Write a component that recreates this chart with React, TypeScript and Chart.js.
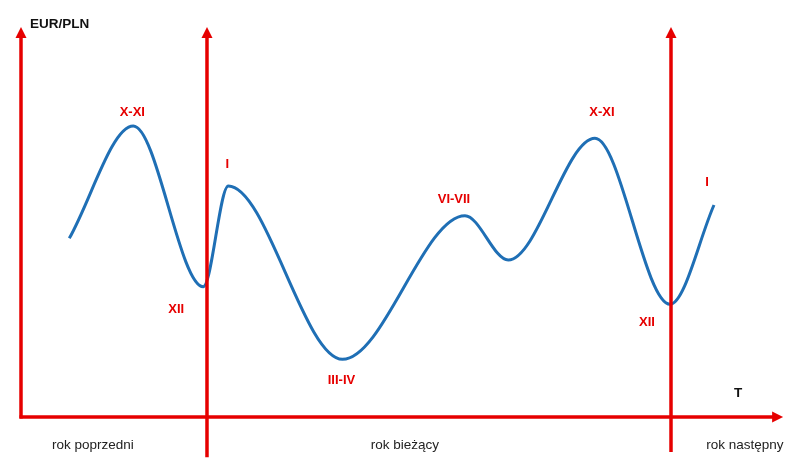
import React, { useEffect, useRef } from "react";
import { Chart, registerables } from "chart.js";
Chart.register(...registerables);

// Time in months (0 = start of current year, 12 = start of next year)
const months = [-3.561, -1.906, -0.096, 0.551, 3.504, 6.672, 7.792, 10.034, 11.974, 13.112];
// Schematic EUR/PLN level (arbitrary units)
const rate = [4.581, 7.46, 3.34, 5.921, 1.478, 5.16, 4.024, 7.144, 2.889, 5.434];
// Turning points: index into the series and their label
const turnIndex = [1, 2, 3, 4, 5, 7, 8, 9];
const turnLabels = ["X-XI", "XII", "I", "III-IV", "VI-VII", "X-XI", "XII", "I"];
// Year boundaries (months) and year names
const yearBounds = [0, 12];
const yearNames = ["rok poprzedni", "rok bieżący", "rok następny"];
const yearNameAt = [-2.95, 5.12, 13.91];

const X_MIN = -5.353;
const X_MAX = 14.974;
const Y_MIN = -1.103;
const Y_MAX = 10.69;
const AXIS_LEFT = -4.81;
const AXIS_RIGHT_END = 14.9;
const AXIS_TOP = 10;
const boundaryBottoms = [-1.03, -0.9];

// pixel offsets of turning-point labels (style only)
const labelOffsets: [number, number][] = [
  [-1, -14], [-27, 23], [-1, -22], [-1, 21], [-11, -16], [7, -26], [-23, 18], [-7, -23],
];

const RED = "#e60000";
const BLUE = "#1f6fb5";

export default function App() {
  const ref = useRef<HTMLCanvasElement | null>(null);
  useEffect(() => {
    document.body.style.margin = "0";
    const canvas = ref.current!;
    const arrowPlugin = {
      id: "schema",
      afterDatasetsDraw(chart: any) {
        const ctx = chart.ctx as CanvasRenderingContext2D;
        const xs = chart.scales.x;
        const ys = chart.scales.y;
        const px = (v: number) => xs.getPixelForValue(v);
        const py = (v: number) => ys.getPixelForValue(v);
        ctx.save();
        ctx.strokeStyle = RED;
        ctx.fillStyle = RED;
        ctx.lineWidth = 3.5;
        ctx.lineCap = "butt";
        const line = (x1: number, y1: number, x2: number, y2: number) => {
          ctx.beginPath();
          ctx.moveTo(x1, y1);
          ctx.lineTo(x2, y2);
          ctx.stroke();
        };
        const headUp = (x: number, y: number) => {
          ctx.beginPath();
          ctx.moveTo(x, y);
          ctx.lineTo(x - 5.5, y + 11);
          ctx.lineTo(x + 5.5, y + 11);
          ctx.closePath();
          ctx.fill();
        };
        const headRight = (x: number, y: number) => {
          ctx.beginPath();
          ctx.moveTo(x, y);
          ctx.lineTo(x - 11, y - 5.5);
          ctx.lineTo(x - 11, y + 5.5);
          ctx.closePath();
          ctx.fill();
        };
        // left axis
        line(px(AXIS_LEFT), py(0) + 1.5, px(AXIS_LEFT), py(AXIS_TOP) + 8);
        headUp(px(AXIS_LEFT), py(AXIS_TOP));
        // bottom axis
        line(px(AXIS_LEFT) - 1.5, py(0), px(AXIS_RIGHT_END) - 8, py(0));
        headRight(px(AXIS_RIGHT_END), py(0));
        // year boundaries
        yearBounds.forEach((b, i) => {
          line(px(b), py(boundaryBottoms[i]), px(b), py(AXIS_TOP) + 8);
          headUp(px(b), py(AXIS_TOP));
        });
        // turning point labels
        ctx.font = "bold 13px 'Liberation Sans', Arial, sans-serif";
        ctx.textAlign = "center";
        ctx.textBaseline = "middle";
        turnLabels.forEach((t, k) => {
          const i = turnIndex[k];
          const [dx, dy] = labelOffsets[k];
          ctx.fillText(t, px(months[i]) + dx, py(rate[i]) + dy);
        });
        // axis titles
        ctx.fillStyle = "#111";
        ctx.font = "bold 13.5px 'Liberation Sans', Arial, sans-serif";
        ctx.textAlign = "left";
        ctx.fillText("EUR/PLN", px(AXIS_LEFT) + 9, py(AXIS_TOP) - 3);
        ctx.textAlign = "center";
        ctx.fillText("T", px(AXIS_RIGHT_END) - 45, py(0) - 24);
        // year names
        ctx.fillStyle = "#222";
        ctx.font = "13.5px 'Liberation Sans', Arial, sans-serif";
        yearNames.forEach((n, i) => {
          ctx.fillText(n, px(yearNameAt[i]), py(0) + 28);
        });
        ctx.restore();
      },
    };
    const chart = new Chart(canvas, {
      type: "line",
      data: {
        datasets: [
          {
            data: months.map((m, i) => ({ x: m, y: rate[i] })),
            borderColor: BLUE,
            borderWidth: 3,
            pointRadius: 0,
            cubicInterpolationMode: "monotone",
            fill: false,
          },
        ],
      },
      options: {
        animation: false,
        responsive: false,
        devicePixelRatio: 1,
        layout: { padding: 0 },
        plugins: { legend: { display: false }, tooltip: { enabled: false } },
        scales: {
          x: { type: "linear", min: X_MIN, max: X_MAX, display: false },
          y: { type: "linear", min: Y_MIN, max: Y_MAX, display: false },
        },
      },
      plugins: [arrowPlugin],
    } as any);
    return () => chart.destroy();
  }, []);
  return (
    <div style={{ width: 786, height: 460, background: "#fff" }}>
      <canvas ref={ref} width={786} height={460} style={{ display: "block" }} />
    </div>
  );
}
